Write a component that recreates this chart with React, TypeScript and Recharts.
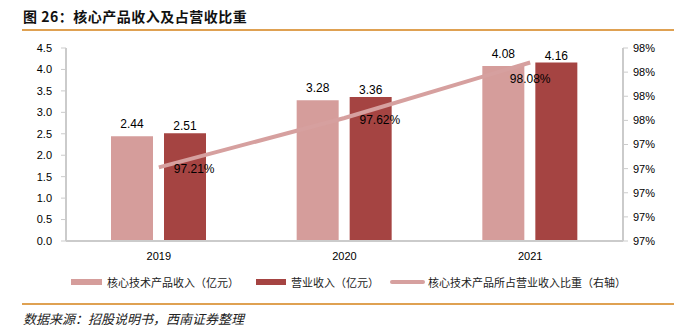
import React from 'react';
import { ComposedChart, Bar, Line, XAxis, YAxis, LabelList } from 'recharts';

const years = ['2019', '2020', '2021'];
const coreRevenue = [2.44, 3.28, 4.08];
const totalRevenue = [2.51, 3.36, 4.16];
const coreShare = [97.21, 97.62, 98.08];

const leftTicks = [0, 0.5, 1, 1.5, 2, 2.5, 3, 3.5, 4, 4.5];
const rightTicks = [96.6, 96.8, 97.0, 97.2, 97.4, 97.6, 97.8, 98.0, 98.2];

const seriesNames = ['核心技术产品收入（亿元）', '营业收入（亿元）', '核心技术产品所占营业收入比重（右轴）'];
const titleText = '图 26：核心产品收入及占营收比重';
const sourceText = '数据来源：招股说明书，西南证券整理';

const LIGHT = '#D59D9B';
const DARK = '#A54442';
const LINE = '#D6A09F';
const ORANGE = '#DFA152';
const AXIS = '#CBCBCB';
const FONT = "'Liberation Sans', Arial, 'Noto Sans CJK SC', sans-serif";
const CJK = "'Noto Sans CJK SC', sans-serif";

const data = years.map((y, i) => ({
  year: y,
  core: coreRevenue[i],
  total: totalRevenue[i],
  share: coreShare[i],
}));

const ShareLabel = (props: any) => {
  const { x, y, value, index } = props;
  const txt = `${Number(value).toFixed(2)}%`;
  if (index < 2) {
    return (
      <text x={x + 15} y={y + 2} dominantBaseline="central" textAnchor="start" fontSize={12} fill="#000" fontFamily={FONT}>
        {txt}
      </text>
    );
  }
  return (
    <text x={x} y={y + 17} dominantBaseline="central" textAnchor="middle" fontSize={12} fill="#000" fontFamily={FONT}>
      {txt}
    </text>
  );
};

export default function App() {
  return (
    <div style={{ position: 'absolute', left: 0, top: 0, width: 680, height: 334, background: '#fff', overflow: 'hidden' }}>
      <div style={{ position: 'absolute', left: 23, top: 6, fontFamily: CJK, fontWeight: 700, fontSize: 14, color: '#111', letterSpacing: 0.5, whiteSpace: 'nowrap' }}>
        {titleText}
      </div>
      <div style={{ position: 'absolute', left: 22, top: 29, width: 652, height: 2, background: ORANGE }} />
      <div style={{ position: 'absolute', left: 0, top: 0 }}>
        <ComposedChart width={680} height={334} data={data} margin={{ top: 48, right: 0, bottom: 63, left: 0 }} barSize={42} barGap={11}>
          <XAxis
            dataKey="year"
            tickLine={false}
            axisLine={{ stroke: AXIS, strokeWidth: 2 }}
            tick={{ fill: '#000', fontSize: 11, fontFamily: FONT }}
            tickMargin={5}
          />
          <YAxis
            yAxisId="left"
            orientation="left"
            width={66}
            domain={[0, 4.5]}
            ticks={leftTicks}
            interval={0}
            tickFormatter={(v: number) => v.toFixed(1)}
            axisLine={{ stroke: AXIS, strokeWidth: 2 }}
            tickLine={{ stroke: AXIS }}
            tickSize={5}
            tickMargin={9}
            tick={{ fill: '#000', fontSize: 11, fontFamily: FONT }}
          />
          <YAxis
            yAxisId="right"
            orientation="right"
            width={57}
            domain={[96.6, 98.2]}
            ticks={rightTicks}
            interval={0}
            tickFormatter={(v: number) => `${Math.round(v)}%`}
            axisLine={{ stroke: AXIS, strokeWidth: 2 }}
            tickLine={{ stroke: AXIS }}
            tickSize={5}
            tickMargin={5}
            tick={{ fill: '#000', fontSize: 11, fontFamily: FONT }}
          />
          <Bar yAxisId="left" dataKey="core" name={seriesNames[0]} fill={LIGHT} isAnimationActive={false}>
            <LabelList dataKey="core" position="top" offset={8} fill="#000" fontSize={12} fontFamily={FONT} formatter={(v: any) => Number(v).toFixed(2)} />
          </Bar>
          <Bar yAxisId="left" dataKey="total" name={seriesNames[1]} fill={DARK} isAnimationActive={false}>
            <LabelList dataKey="total" position="top" offset={3} fill="#000" fontSize={12} fontFamily={FONT} formatter={(v: any) => Number(v).toFixed(2)} />
          </Bar>
          <Line yAxisId="right" dataKey="share" name={seriesNames[2]} stroke={LINE} strokeWidth={4} dot={false} activeDot={false} isAnimationActive={false}>
            <LabelList dataKey="share" content={ShareLabel} />
          </Line>
        </ComposedChart>
      </div>
      <div style={{ position: 'absolute', left: 71, top: 274, display: 'flex', alignItems: 'center', fontFamily: CJK, fontSize: 11, color: '#222', whiteSpace: 'nowrap' }}>
        <span style={{ display: 'inline-block', width: 31, height: 6, background: LIGHT, marginRight: 5 }} />
        <span style={{ marginRight: 17 }}>{seriesNames[0]}</span>
        <span style={{ display: 'inline-block', width: 30, height: 6, background: DARK, marginRight: 5 }} />
        <span style={{ marginRight: 11 }}>{seriesNames[1]}</span>
        <span style={{ display: 'inline-block', width: 35, height: 4, borderRadius: 2, background: LINE, marginRight: 3 }} />
        <span>{seriesNames[2]}</span>
      </div>
      <div style={{ position: 'absolute', left: 22, top: 303, width: 652, height: 2, background: ORANGE }} />
      <div style={{ position: 'absolute', left: 23, top: 309, fontFamily: CJK, fontStyle: 'italic', fontSize: 13, color: '#222', whiteSpace: 'nowrap' }}>
        {sourceText}
      </div>
    </div>
  );
}
